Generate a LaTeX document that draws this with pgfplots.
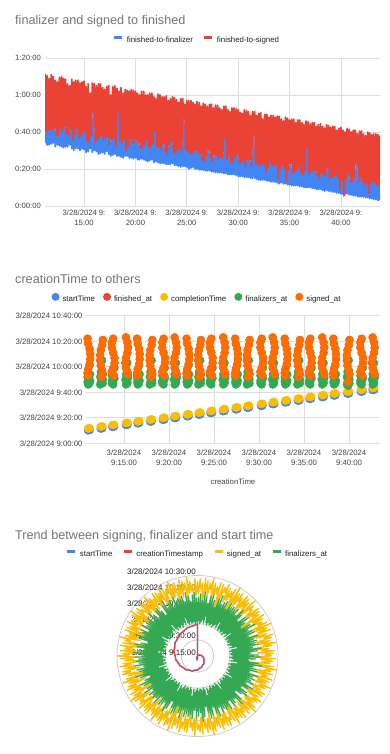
\documentclass[border=0pt]{standalone}
\usepackage{fontspec}
\setmainfont{Liberation Sans}
\usepackage{pgfplots}
\pgfplotsset{compat=1.18}
\usepackage{pgfplotstable}
\usepgfplotslibrary{polar}
\definecolor{gblue}{HTML}{4285F4}
\definecolor{gred}{HTML}{EA4335}
\definecolor{gyel}{HTML}{FBBC04}
\definecolor{ggreen}{HTML}{34A853}
\definecolor{gorange}{HTML}{FF6D01}
\definecolor{gridc}{HTML}{DDDDDD}
\definecolor{polc}{HTML}{CCCCCC}
\definecolor{tickc}{HTML}{444444}
\definecolor{titlec}{HTML}{757575}
\definecolor{legc}{HTML}{222222}

% chart 1: minutes after 9:00 vs duration in minutes
\pgfplotstableread{
t b r
11.2 34 71.5
11.3 42 40
11.4 33 70.5
11.5 43 41
11.6 33 69
11.7 44.5 41.5
11.8 33.5 71
11.9 44 41
12.0 34 70
12.1 46 42
12.2 32 68
12.3 40 38
12.4 33 67
12.5 40 38
12.6 32.5 69.5
12.7 47 42
12.8 32 70
12.9 42.5 40.5
13.0 31.5 69
13.1 48 43
13.2 32 68.5
13.3 40 39
13.4 32 66
13.5 40 38
13.6 33 65
13.7 47 42
13.8 31 68.5
13.9 42 36
14.0 30 67
14.1 40.5 38.5
14.2 31 68
14.3 50 42
14.4 31 68
14.5 38 37
14.6 30 66.5
14.7 40 38
14.8 31 67
14.9 42.5 39.5
15.0 30.5 67.5
15.1 42.5 40.5
15.2 29 64.5
15.3 38 35
15.4 29.5 66
15.5 37 34
15.6 31 61
15.7 40 38
15.8 29 66.5
15.9 52 51
16.0 30 66
16.1 35.5 34.5
16.2 29.5 65
16.3 37.5 35.5
16.4 28 66
16.5 40 37
16.6 28.5 66
16.7 50 38
16.8 29 64
16.9 37 36
17.0 28 63
17.1 38.5 36.5
17.2 29.5 64.5
17.3 42.5 37.5
17.4 28 65
17.5 34.5 33.5
17.6 27 60
17.7 37 36
17.8 27.5 64.5
17.9 41 37
18.0 28 65
18.1 34.5 32.5
18.2 27 63.5
18.3 52 51.5
18.4 27 62
18.5 37.5 35.5
18.6 26.5 64
18.7 38 34
18.8 26 61
18.9 39 36
19.0 27 63
19.1 35 30
19.2 27 62.5
19.3 34.5 32.5
19.4 26 62
19.5 43.5 36.5
19.6 26 63
19.7 35.5 34.5
19.8 25.5 62.5
19.9 35 34
20.0 26 62
20.1 39 36
20.2 25 61
20.3 37.5 34.5
20.4 25 60
20.5 32.5 31.5
20.6 25.5 62
20.7 32.5 31.5
20.8 25 62
20.9 36 33
21.0 24.5 60
21.1 45 36
21.2 24 60
21.3 33 32
21.4 24.5 61
21.5 34.5 31.5
21.6 25 61
21.7 34.5 33.5
21.8 23.5 59
21.9 42 41
22.0 24 58
22.1 39 32
22.2 23.5 60.5
22.3 35 32
22.4 23 60
22.5 32.5 30.5
22.6 23 59
22.7 37.5 33.5
22.8 23 59
22.9 31.5 29.5
23.0 22.5 59.5
23.1 32 28
23.2 22.5 57
23.3 35 33
23.4 22.5 58
23.5 41 35
23.6 23 59
23.7 29.5 28.5
23.8 22 58.5
23.9 29.5 28.5
24.0 22 57.5
24.1 32 30
24.2 21.5 56
24.3 33 31
24.4 21 58
24.5 31 29
24.6 21.5 58
24.7 49 48.5
24.8 21.5 55
24.9 32.5 30.5
25.0 21 57
25.1 34.5 29.5
25.2 20 57
25.3 29 28
25.4 20.5 57
25.5 29 28
25.6 21 56
25.7 34 30
25.8 20 55
25.9 42.5 30.5
26.0 20 56.5
26.1 29.5 28.5
26.2 19.5 56
26.3 30 28
26.4 19.5 54
26.5 27 25
26.6 19.5 55.5
26.7 29 24
26.8 19 55
26.9 29.5 27.5
27.0 19 54
27.1 31.5 30.5
27.2 19 55
27.3 28.5 26.5
27.4 18.5 55
27.5 26 24
27.6 18.5 53
27.7 31 28
27.8 18 54.5
27.9 34.5 27.5
28.0 18 54.5
28.1 26.5 25.5
28.2 18 53
28.3 29.5 26.5
28.4 18 52
28.5 28 26
28.6 17.5 54
28.7 38 37
28.8 17.5 54
28.9 27 25
29.0 17 52
29.1 30.5 27.5
29.2 17 51
29.3 24.5 23.5
29.4 17 53
29.5 26.5 23.5
29.6 17 53
29.7 28 26
29.8 16.5 52.5
29.9 36 28
30.0 16 52
30.1 24.5 23.5
30.2 16 50.5
30.3 26.5 23.5
30.4 16 50
30.5 25.5 24.5
30.6 15.5 52
30.7 24 21
30.8 15.5 51.5
30.9 29 25
31.0 15.5 51
31.1 28 25
31.2 15 49
31.3 23.5 21.5
31.4 15 51
31.5 39 38.5
31.6 15 51
31.7 25 23
31.8 14.5 49
31.9 24 22
32.0 14 50
32.1 24 22
32.2 14 50.5
32.3 25.5 22.5
32.4 14 47
32.5 25.5 22.5
32.6 14 49.5
32.7 21.5 18.5
32.8 13.5 49.5
32.9 22 21
33.0 13.5 48
33.1 31 24
33.2 13 49
33.3 23 22
33.4 13 49
33.5 23.5 21.5
33.6 13 48
33.7 25.5 22.5
33.8 12.5 48.5
33.9 21 15
34.0 12 48.5
34.1 21 20
34.2 12.5 47
34.3 26 22
34.4 12 46
34.5 22.5 20.5
34.6 12 48
34.7 21.5 13.5
34.8 11.5 47.5
34.9 21.5 19.5
35.0 11.5 46.5
35.1 24 23
35.2 11 47
35.3 19 18
35.4 11 47
35.5 21.5 18.5
35.6 11 45
35.7 22.5 19.5
35.8 11 46.5
35.9 29.5 21.5
36.0 10.5 46.5
36.1 19 18
36.2 10.5 45
36.3 19 17
36.4 10 44
36.5 21 19
36.6 10 46
36.7 32 31.5
36.8 10 45.5
36.9 19.5 17.5
37.0 10 44.5
37.1 19.5 18.5
37.2 9.5 45
37.3 22 19
37.4 9.5 45
37.5 24 19
37.6 9 43
37.7 17.5 16.5
37.8 9 44
37.9 16.5 14.5
38.0 9 44.5
38.1 19.5 17.5
38.2 8.5 43
38.3 20 17
38.4 8 42
38.5 18 16
38.6 8.5 44
38.7 30 21
38.8 8 43.5
38.9 16.5 14.5
39.0 8 42.5
39.1 17.5 15.5
39.2 7.5 43
39.3 19 16
39.4 7.5 43
39.5 20 17
39.6 7 41
39.7 17 15
39.8 7 42
39.9 15.5 8.5
40.0 6.5 42.5
40.1 15.5 13.5
40.2 6.5 41
40.3 17.5 5.5
40.4 6.5 40
40.5 17 15
40.6 6.5 42
40.7 22 18
40.8 6 41.5
40.9 14 13
41.0 6 40
41.1 15.5 13.5
41.2 5.5 41
41.3 17.5 15.5
41.4 5.5 41
41.5 24 23
41.6 5 39
41.7 14 13
41.8 5 40.5
41.9 29 16
42.0 5 40.5
42.1 14.5 13.5
42.2 5 39
42.3 13.5 11.5
42.4 4.5 38
42.5 15.5 12.5
42.6 4.5 40
42.7 15 7
42.8 4 39.5
42.9 13 12
43.0 4 38.5
43.1 16.5 13.5
43.2 3.5 39
43.3 15.5 12.5
43.4 3.5 39
43.5 13.5 11.5
43.6 3 38.5
43.7 13 11
43.8 3 38
}\tblA

% chart 2: runs (creation, finalizers_at, signed_at), minutes after 9:00
\pgfplotstableread{
c fz sg
10.95 48 82
11.02 51 78
11.18 47 74
11.25 54 70
11.25 49 66
11.18 61 62
11.02 46 58
10.95 52 55
11.02 50 53
12.65 47 81
12.58 49 77
12.42 56 73
12.35 46 69
12.35 52 65
12.42 48 61
12.58 65 57
12.65 50 54
12.5 51 52
13.8 50 82
13.65 47 79
13.65 53 75
13.8 48 71
13.95 59 67
13.95 51 63
13.8 46 59
13.65 49 56
13.88 52 53
15.22 49 83
15.38 48 79
15.45 52 75
15.38 63 71
15.22 46 67
15.15 50 63
15.22 54 59
15.38 47 56
15.45 51 54
16.45 48 82
16.52 51 78
16.68 47 74
16.75 54 70
16.75 49 66
16.68 61 62
16.52 46 58
16.45 52 55
16.52 50 53
18.15 47 81
18.08 49 77
17.92 56 73
17.85 46 69
17.85 52 65
17.92 48 61
18.08 65 57
18.15 50 54
18.0 51 52
19.4 50 82
19.25 47 79
19.25 53 75
19.4 48 71
19.55 59 67
19.55 51 63
19.4 46 59
19.25 49 56
19.48 52 53
20.62 49 83
20.78 48 79
20.85 52 75
20.78 63 71
20.62 46 67
20.55 50 63
20.62 54 59
20.78 47 56
20.85 51 54
21.95 48 82
22.02 51 78
22.18 47 74
22.25 54 70
22.25 49 66
22.18 61 62
22.02 46 58
21.95 52 55
22.02 50 53
23.55 47 81
23.48 49 77
23.32 56 73
23.25 46 69
23.25 52 65
23.32 48 61
23.48 65 57
23.55 50 54
23.4 51 52
24.7 50 82
24.55 47 79
24.55 53 75
24.7 48 71
24.85 59 67
24.85 51 63
24.7 46 59
24.55 49 56
24.78 52 53
26.02 49 83
26.18 48 79
26.25 52 75
26.18 63 71
26.02 46 67
25.95 50 63
26.02 54 59
26.18 47 56
26.25 51 54
27.35 48 82
27.42 51 78
27.58 47 74
27.65 54 70
27.65 49 66
27.58 61 62
27.42 46 58
27.35 52 55
27.42 50 53
28.95 47 81
28.88 49 77
28.72 56 73
28.65 46 69
28.65 52 65
28.72 48 61
28.88 65 57
28.95 50 54
28.8 51 52
30.3 50 82
30.15 47 79
30.15 53 75
30.3 48 71
30.45 59 67
30.45 51 63
30.3 46 59
30.15 49 56
30.38 52 53
31.52 49 83
31.68 48 79
31.75 52 75
31.68 63 71
31.52 46 67
31.45 50 63
31.52 54 59
31.68 47 56
31.75 51 54
32.85 48 82
32.92 51 78
33.08 47 74
33.15 54 70
33.15 49 66
33.08 61 62
32.92 46 58
32.85 52 55
32.92 50 53
34.55 47 81
34.48 49 77
34.32 56 73
34.25 46 69
34.25 52 65
34.32 48 61
34.48 65 57
34.55 50 54
34.4 51 52
35.7 50 82
35.55 47 79
35.55 53 75
35.7 48 71
35.85 59 67
35.85 51 63
35.7 46 59
35.55 49 56
35.78 52 53
37.02 49 83
37.18 48 79
37.25 52 75
37.18 63 71
37.02 46 67
36.95 50 63
37.02 54 59
37.18 47 56
37.25 51 54
38.25 48 82
38.32 51 78
38.48 47 74
38.55 54 70
38.55 49 66
38.48 61 62
38.32 46 58
38.25 52 55
38.32 50 53
40.05 47 81
39.98 49 77
39.82 56 73
39.75 46 69
39.75 52 65
39.82 48 61
39.98 65 57
40.05 50 54
39.9 45 48
41.4 50 82
41.25 47 79
41.25 53 75
41.4 48 71
41.55 59 67
41.55 51 63
41.4 46 59
41.25 49 56
41.48 52 53
42.62 49 83
42.78 48 79
42.85 52 75
42.78 63 71
42.62 46 67
42.55 50 63
42.62 54 59
42.78 47 56
42.85 51 54
}\tblB

% chart 2: creation, startTime, completionTime
\pgfplotstableread{
c st cp
11.0 10.1 11.6
11.1 10.2 11.7
11.2 10.4 11.9
12.4 11.5 13.0
12.5 11.6 13.1
12.6 11.8 13.3
13.7 12.8 14.3
13.8 12.9 14.4
13.9 13.1 14.6
15.2 14.3 15.8
15.3 14.4 15.9
15.4 14.6 16.1
16.5 15.6 17.1
16.6 15.7 17.2
16.7 15.9 17.4
17.9 17.0 18.5
18.0 17.1 18.6
18.1 17.3 18.8
19.3 18.4 19.9
19.4 18.5 20.0
19.5 18.7 20.2
20.6 19.7 21.2
20.7 19.8 21.3
20.8 20.0 21.5
22.0 21.1 22.6
22.1 21.2 22.7
22.2 21.4 22.9
23.3 22.4 23.9
23.4 22.5 24.0
23.5 22.7 24.2
24.6 23.7 25.2
24.7 23.8 25.3
24.8 24.0 25.5
26.0 25.1 26.6
26.1 25.2 26.7
26.2 25.4 26.9
27.4 26.5 28.0
27.5 26.6 28.1
27.6 26.8 28.3
28.7 27.8 29.3
28.8 27.9 29.4
28.9 28.1 29.6
30.2 29.3 30.8
30.3 29.4 30.9
30.4 29.6 31.1
31.5 30.6 32.1
31.6 30.7 32.2
31.7 30.9 32.4
32.9 32.0 33.5
33.0 32.1 33.6
33.1 32.3 33.8
34.3 33.4 34.9
34.4 33.5 35.0
34.5 33.7 35.2
35.6 34.7 36.2
35.7 34.8 36.3
35.8 35.0 36.5
37.0 36.1 37.6
37.1 36.2 37.7
37.2 36.4 37.9
38.3 37.4 38.9
38.4 37.5 39.0
38.5 37.7 39.2
39.8 38.9 40.4
39.9 39.0 40.5
40.0 39.2 40.7
41.3 40.4 41.9
41.4 40.5 42.0
41.5 40.7 42.2
42.6 41.7 43.2
42.7 41.8 43.3
42.8 42.0 43.5
}\tblC

% chart 3 spiral: angle, startTime, creationTimestamp (minutes after 9:15)
\pgfplotstableread{
a st cr
90 -3.4 -4
80 -3.7 -3.1
70 -1.5 -2.1
60 -1.8 -1.2
50 0.3 -0.3
40 0.1 0.7
30 2.2 1.6
20 1.9 2.5
10 4.0 3.4
0 3.8 4.4
-10 5.9 5.3
-20 5.6 6.2
-30 7.8 7.2
-40 7.5 8.1
-50 9.6 9.0
-60 9.4 10.0
-70 11.5 10.9
-80 11.2 11.8
-90 13.4 12.8
-100 13.1 13.7
-110 15.2 14.6
-120 14.9 15.5
-130 17.1 16.5
-140 16.8 17.4
-150 18.9 18.3
-160 18.7 19.3
-170 20.8 20.2
-180 20.5 21.1
-190 22.7 22.1
-200 22.4 23.0
-210 24.5 23.9
-220 24.3 24.9
-230 26.4 25.8
-240 26.1 26.7
-250 28.2 27.6
-260 28.0 28.6
-270 30.1 29.5
-270 -3.4 -4
}\tblD

% chart 3 ring: angle, signed_at, finalizers_at (minutes after 9:15)
\pgfplotstableread{
a sg fz
90 70 31
89 58 55
88 72 33
87 62 58
86 68 30
85 45 52
84 73 32
83 60 60
82 71 34
81 56 56
80 69 31
79 63 50
78 74 38
77 52 57
76 70 32
75 59 59
74 67 30
73 61 54
72 72 33
71 40 48
70 71 31
69 57 57
68 69 31
67 64 61
66 73 33
65 55 53
64 70 30
63 58 56
62 68 32
61 62 58
60 72 34
59 45 51
58 75 31
57 60 59
56 70 38
55 56 55
54 72 32
53 63 57
52 68 30
51 52 55
50 73 33
49 59 58
48 71 31
47 61 52
46 69 31
45 40 60
44 74 33
43 57 56
42 70 30
41 64 50
40 67 32
39 55 57
38 72 34
37 58 59
36 71 31
35 62 54
34 69 38
33 45 48
32 73 32
31 60 57
30 70 30
29 56 61
28 68 33
27 63 53
26 72 31
25 52 56
24 75 31
23 59 58
22 70 33
21 61 51
20 72 30
19 40 59
18 68 32
17 57 55
16 73 34
15 64 57
14 71 31
13 55 55
12 69 38
11 58 58
10 74 32
9 62 52
8 70 30
7 45 60
6 67 33
5 60 56
4 72 31
3 56 50
2 71 31
1 63 57
0 69 33
-1 52 59
-2 73 30
-3 59 54
-4 70 32
-5 61 48
-6 68 34
-7 40 57
-8 72 31
-9 57 61
-10 75 38
-11 64 53
-12 70 32
-13 55 56
-14 72 30
-15 58 58
-16 68 33
-17 62 51
-18 73 31
-19 45 59
-20 71 31
-21 60 55
-22 69 33
-23 56 57
-24 74 30
-25 63 55
-26 70 32
-27 52 58
-28 67 34
-29 59 52
-30 72 31
-31 61 60
-32 71 38
-33 40 56
-34 69 32
-35 57 50
-36 73 30
-37 64 57
-38 70 33
-39 55 59
-40 68 31
-41 58 54
-42 72 31
-43 62 48
-44 75 33
-45 45 57
-46 70 30
-47 60 61
-48 72 32
-49 56 53
-50 68 34
-51 63 56
-52 73 31
-53 52 58
-54 71 38
-55 59 51
-56 69 32
-57 61 59
-58 74 30
-59 40 55
-60 70 33
-61 57 57
-62 67 31
-63 64 55
-64 72 31
-65 55 58
-66 71 33
-67 58 52
-68 69 30
-69 62 60
-70 73 32
-71 45 56
-72 70 34
-73 60 50
-74 68 31
-75 56 57
-76 72 38
-77 63 59
-78 75 32
-79 52 54
-80 70 30
-81 59 48
-82 72 33
-83 61 57
-84 68 31
-85 40 61
-86 73 31
-87 57 53
-88 71 33
-89 64 56
-90 69 30
-91 55 58
-92 74 32
-93 58 51
-94 70 34
-95 62 59
-96 67 31
-97 45 55
-98 72 38
-99 60 57
-100 71 32
-101 56 55
-102 69 30
-103 63 58
-104 73 33
-105 52 52
-106 70 31
-107 59 60
-108 68 31
-109 61 56
-110 72 33
-111 40 50
-112 75 30
-113 57 57
-114 70 32
-115 64 59
-116 72 34
-117 55 54
-118 68 31
-119 58 48
-120 73 38
-121 62 57
-122 71 32
-123 45 61
-124 69 30
-125 60 53
-126 74 33
-127 56 56
-128 70 31
-129 63 58
-130 67 31
-131 52 51
-132 72 33
-133 59 59
-134 71 30
-135 61 55
-136 69 32
-137 40 57
-138 73 34
-139 57 55
-140 70 31
-141 64 58
-142 68 38
-143 55 52
-144 72 32
-145 58 60
-146 75 30
-147 62 56
-148 70 33
-149 45 50
-150 72 31
-151 60 57
-152 68 31
-153 56 59
-154 73 33
-155 63 54
-156 71 30
-157 52 48
-158 69 32
-159 59 57
-160 74 34
-161 61 61
-162 70 31
-163 40 53
-164 67 38
-165 57 56
-166 72 32
-167 64 58
-168 71 30
-169 55 51
-170 69 33
-171 58 59
-172 73 31
-173 62 55
-174 70 31
-175 45 57
-176 68 33
-177 60 55
-178 72 30
-179 56 58
-180 75 32
-181 63 52
-182 70 34
-183 52 60
-184 72 31
-185 59 56
-186 68 38
-187 61 50
-188 73 32
-189 40 57
-190 71 30
-191 57 59
-192 69 33
-193 64 54
-194 74 31
-195 55 48
-196 70 31
-197 58 57
-198 67 33
-199 62 61
-200 72 30
-201 45 53
-202 71 32
-203 60 56
-204 69 34
-205 56 58
-206 73 31
-207 63 51
-208 70 38
-209 52 59
-210 68 32
-211 59 55
-212 72 30
-213 61 57
-214 75 33
-215 40 55
-216 70 31
-217 57 58
-218 72 31
-219 64 52
-220 68 33
-221 55 60
-222 73 30
-223 58 56
-224 71 32
-225 62 50
-226 69 34
-227 45 57
-228 74 31
-229 60 59
-230 70 38
-231 56 54
-232 67 32
-233 63 48
-234 72 30
-235 52 57
-236 71 33
-237 59 61
-238 69 31
-239 61 53
-240 73 31
-241 40 56
-242 70 33
-243 57 58
-244 68 30
-245 64 51
-246 72 32
-247 55 59
-248 75 34
-249 58 55
-250 70 31
-251 62 57
-252 72 38
-253 45 55
-254 68 32
-255 60 58
-256 73 30
-257 56 52
-258 71 33
-259 63 60
-260 69 31
-261 52 56
-262 74 31
-263 59 50
-264 70 33
-265 61 57
-266 67 30
-267 40 59
-268 72 32
-269 57 54
-270 70 31
}\tblE

\newcommand\tfont{\fontsize{12.7}{15}\selectfont}
\newcommand\lfont{\fontsize{7.9}{9.5}\selectfont}

\begin{document}
\begin{tikzpicture}
\fill[white] (0,0) rectangle (390bp,-754bp);
\useasboundingbox (0,0) rectangle (390bp,-754bp);

\node[anchor=base west, inner sep=0, font=\tfont, text=titlec] at (15bp,-24bp) {finalizer and signed to finished};
\node[anchor=base west, inner sep=0, font=\tfont, text=titlec] at (15bp,-283.3bp) {creationTime to others};
\node[anchor=base west, inner sep=0, font=\tfont, text=titlec] at (15bp,-539.3bp) {Trend between signing, finalizer and start time};

% ---------- chart 1 ----------
\begin{axis}[
  at={(45bp,-206bp)}, anchor=south west,
  scale only axis, width=335bp, height=148bp,
  xmin=11.2, xmax=43.8, ymin=0, ymax=80,
  xtick={15,20,25,30,35,40},
  xticklabels={{3/28/2024 9:\\15:00},{3/28/2024 9:\\20:00},{3/28/2024 9:\\25:00},{3/28/2024 9:\\30:00},{3/28/2024 9:\\35:00},{3/28/2024 9:\\40:00}},
  ytick={0,20,40,60,80},
  yticklabels={0:00:00,0:20:00,0:40:00,1:00:00,1:20:00},
  axis line style={draw=none}, tick style={draw=none},
  xmajorgrids, ymajorgrids,
  major grid style={draw=gridc, line width=0.8bp},
  tick label style={text=tickc, font=\fontsize{7.7}{10}\selectfont},
  xticklabel style={align=center, inner sep=0pt, anchor=north, yshift=-4bp},
  yticklabel style={inner sep=0pt, anchor=east, xshift=-4bp},
  legend style={at={(0.4537,1.1216)}, anchor=center, draw=none, fill=none,
    font=\lfont, text=legc, legend columns=-1,
    /tikz/every even column/.append style={column sep=8bp},
    /tikz/every odd column/.append style={column sep=1bp}},
  legend image code/.code={\draw[#1, line width=3bp] (0bp,0.5ex) -- (8bp,0.5ex);},
]
\addplot[gblue, line width=1.7bp, line join=round] table[x=t,y=b]{\tblA};
\addlegendentry{finished-to-finalizer}
\addplot[gred, line width=1.7bp, line join=round] table[x=t,y=r]{\tblA};
\addlegendentry{finished-to-signed}
\end{axis}

% ---------- chart 2 ----------
\begin{axis}[
  at={(86bp,-443.3bp)}, anchor=south west,
  scale only axis, width=294bp, height=127.6bp,
  xmin=10.78, xmax=43.44, ymin=0, ymax=100,
  xtick={15,20,25,30,35,40},
  xticklabels={{3/28/2024\\9:15:00},{3/28/2024\\9:20:00},{3/28/2024\\9:25:00},{3/28/2024\\9:30:00},{3/28/2024\\9:35:00},{3/28/2024\\9:40:00}},
  ytick={0,20,40,60,80,100},
  yticklabels={3/28/2024 9:00:00,3/28/2024 9:20:00,3/28/2024 9:40:00,3/28/2024 10:00:00,3/28/2024 10:20:00,3/28/2024 10:40:00},
  axis line style={draw=none}, tick style={draw=none},
  xmajorgrids, ymajorgrids,
  major grid style={draw=gridc, line width=0.8bp},
  tick label style={text=tickc, font=\fontsize{7.8}{9.4}\selectfont},
  xticklabel style={align=center, inner sep=0pt, anchor=north, yshift=-6.5bp},
  yticklabel style={inner sep=0pt, anchor=east, xshift=-3.3bp},
  xlabel={creationTime},
  xlabel style={at={(0.5,-0.303)}, anchor=center, inner sep=0pt, text=tickc, font=\fontsize{7.8}{9.4}\selectfont},
  legend style={at={(0.3776,1.131)}, anchor=center, draw=none, fill=none,
    font=\lfont, text=legc, legend columns=-1,
    /tikz/every even column/.append style={column sep=6bp},
    /tikz/every odd column/.append style={column sep=1bp}},
  legend image code/.code={\fill[#1, draw=none] (4bp,0.5ex) circle[radius=4bp];},
  clip=false,
]
\addplot[only marks, mark=*, mark size=3.9bp, color=gblue, mark options={draw=none, fill=gblue}] table[x=c,y=st]{\tblC};
\addlegendentry{startTime}
\addplot[only marks, mark=*, mark size=3.9bp, color=gred, mark options={draw=none, fill=gred}] table[x=c,y=sg]{\tblB};
\addlegendentry{finished\_at}
\addplot[only marks, mark=*, mark size=3.9bp, color=gyel, mark options={draw=none, fill=gyel}] table[x=c,y=cp]{\tblC};
\addlegendentry{completionTime}
\addplot[only marks, mark=*, mark size=3.9bp, color=ggreen, mark options={draw=none, fill=ggreen}] table[x=c,y=fz]{\tblB};
\addlegendentry{finalizers\_at}
\addplot[only marks, mark=*, mark size=3.9bp, color=gorange, mark options={draw=none, fill=gorange}] table[x=c,y=sg]{\tblB};
\addlegendentry{signed\_at}
\end{axis}

% ---------- chart 3 ----------
\begin{polaraxis}[
  at={(197.5bp,-656bp)}, anchor=center,
  scale only axis, width=161bp, height=161bp,
  ymin=0, ymax=75,
  xtick=\empty, ytick={15,30,45,60}, yticklabels={},
  ymajorgrids, xmajorgrids=false,
  major grid style={draw=polc, line width=0.8bp},
  axis line style={draw=polc, line width=0.8bp},
  y axis line style={draw=none},
  tick style={draw=none},
  clip=false,
  legend style={at={(0.5,1.1335)}, anchor=center, draw=none, fill=none,
    font=\lfont, text=legc, legend columns=-1,
    /tikz/every even column/.append style={column sep=8bp},
    /tikz/every odd column/.append style={column sep=1bp}},
  legend image code/.code={\draw[#1, line width=3bp] (0bp,0.5ex) -- (8bp,0.5ex);},
]
\node[anchor=base east, inner sep=0, xshift=-1.5bp, yshift=1bp, text=legc, font=\fontsize{8}{9}\selectfont] at (axis cs:90,75) {3/28/2024 10:30:00};
\node[anchor=base east, inner sep=0, xshift=-1.5bp, yshift=1bp, text=legc, font=\fontsize{8}{9}\selectfont] at (axis cs:90,60) {3/28/2024 10:15:00};
\node[anchor=base east, inner sep=0, xshift=-1.5bp, yshift=1bp, text=legc, font=\fontsize{8}{9}\selectfont] at (axis cs:90,45) {3/28/2024 10:00:00};
\node[anchor=base east, inner sep=0, xshift=-1.5bp, yshift=1bp, text=legc, font=\fontsize{8}{9}\selectfont] at (axis cs:90,30) {3/28/2024 9:45:00};
\node[anchor=base east, inner sep=0, xshift=-1.5bp, yshift=1bp, text=legc, font=\fontsize{8}{9}\selectfont] at (axis cs:90,15) {3/28/2024 9:30:00};
\node[anchor=base east, inner sep=0, xshift=-1.5bp, yshift=1bp, text=legc, font=\fontsize{8}{9}\selectfont] at (axis cs:90,0) {3/28/2024 9:15:00};
\addplot[gblue, line width=1.3bp, line join=round] table[x=a,y=st]{\tblD};
\addlegendentry{startTime}
\addplot[gred, line width=1.1bp, line join=round] table[x=a,y=cr]{\tblD};
\addlegendentry{creationTimestamp}
\addplot[gyel, line width=1.2bp, line join=round] table[x=a,y=sg]{\tblE};
\addlegendentry{signed\_at}
\addplot[ggreen, line width=1.2bp, line join=round] table[x=a,y=fz]{\tblE};
\addlegendentry{finalizers\_at}
\end{polaraxis}
\end{tikzpicture}
\end{document}
